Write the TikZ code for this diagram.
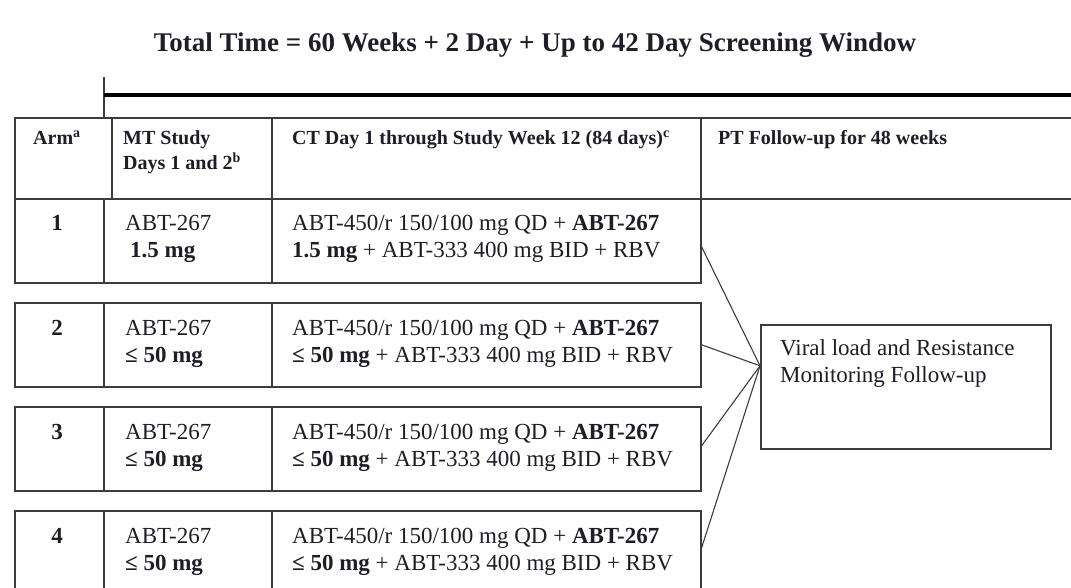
\documentclass[tikz,border=0pt]{standalone}
\usepackage{fontspec}
\setmainfont{Liberation Serif}
\usetikzlibrary{positioning}

\definecolor{linec}{HTML}{3C3C3C}
\definecolor{txtc}{HTML}{1E1E28}

\tikzset{
  cell/.style={draw=linec, line width=1.6pt, anchor=north west, inner sep=0pt, minimum height=84pt},
  headcell/.style={cell, minimum height=81pt},
  body/.style={anchor=base west, align=left, inner sep=0pt, text=txtc, font=\fontsize{23}{27}\selectfont},
  head/.style={body, font=\bfseries\fontsize{20}{25}\selectfont},
  link/.style={draw=linec, line width=1.1pt}
}

\begin{document}
\begin{tikzpicture}[x=1pt,y=-1pt]
\useasboundingbox[fill=white] (0,0) rectangle (1071,588);

% title
\node[text=txtc, font=\bfseries\fontsize{27}{30}\selectfont] (title) at (535,45) {Total Time = 60 Weeks + 2 Day + Up to 42 Day Screening Window};

% time line
\coordinate (tick top) at (104,77);
\coordinate (tick bot) at (104,117);
\coordinate (line end) at (1071,95);
\draw[linec, line width=1.1pt] (tick top) -- (tick bot);
\draw[black, line width=4pt] (tick top |- line end) -- (line end);

% header row (base anchor sits on the last line)
\node[headcell, minimum width=97pt] (harm) at (14,117) {};
\node[headcell, minimum width=160pt] (hmt) at (111,117) {};
\node[headcell, minimum width=429pt] (hct) at (271,117) {};
\node[headcell, minimum width=400pt] (hpt) at (700,117) {};
\node[head] at ([shift={(19,28)}]harm.north west) {Arm\textsuperscript{a}};
\node[head] at ([shift={(12,53)}]hmt.north west) {MT Study\\Days 1 and 2\textsuperscript{b}};
\node[head] at ([shift={(21,28)}]hct.north west) {CT Day 1 through Study Week 12 (84 days)\textsuperscript{c}};
\node[head] at ([shift={(18,28)}]hpt.north west) {PT Follow-up for 48 weeks};

% follow-up box
\node[cell, minimum width=290pt, minimum height=124pt] (viral) at (760,324) {};
\node[body] at ([shift={(20,58)}]viral.north west) {Viral load and Resistance\\Monitoring Follow-up};
\coordinate (meet) at ([yshift=21pt]viral.west);

% arms
\foreach \i/\top/\dose/\gap/\dy in {1/198/1.5 mg/5/-6, 2/302/≤ 50 mg/0/0, 3/406/≤ 50 mg/0/3, 4/510/≤ 50 mg/0/5} {
  \node[cell, minimum width=89pt] (arm\i) at (14,\top) {};
  \node[cell, minimum width=168pt] (mt\i) at (103,\top) {};
  \node[cell, minimum width=429pt] (ct\i) at (271,\top) {};
  \node[body, anchor=base, font=\bfseries\fontsize{23}{27}\selectfont] at ([shift={(43,33)}]arm\i.north west) {\i};
  \node[body] at ([shift={(22,60)}]mt\i.north west) {ABT-267\\\hspace{\gap pt}\textbf{\dose}};
  \node[body] at ([shift={(21,60)}]ct\i.north west) {ABT-450/r 150/100 mg QD + \textbf{ABT-267}\\\textbf{\dose} + ABT-333 400 mg BID + RBV};
  \draw[link] ([yshift=\dy pt]ct\i.east) -- (meet);
}

\end{tikzpicture}
\end{document}
